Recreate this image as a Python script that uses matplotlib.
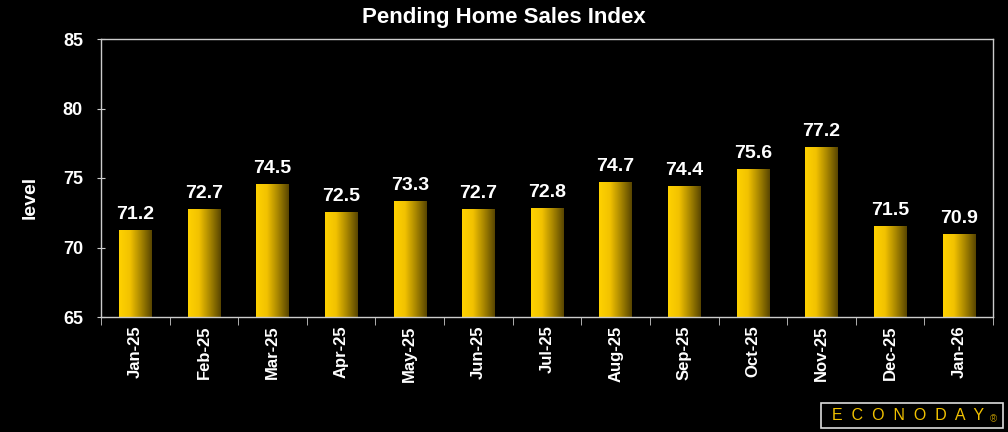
import numpy as np
import matplotlib.pyplot as plt
from matplotlib.colors import LinearSegmentedColormap
from matplotlib.patches import Rectangle

months = ['Jan-25', 'Feb-25', 'Mar-25', 'Apr-25', 'May-25', 'Jun-25', 'Jul-25',
          'Aug-25', 'Sep-25', 'Oct-25', 'Nov-25', 'Dec-25', 'Jan-26']
values = [71.2, 72.7, 74.5, 72.5, 73.3, 72.7, 72.8, 74.7, 74.4, 75.6, 77.2, 71.5, 70.9]
yticks = [65, 70, 75, 80, 85]

plt.rcParams['font.family'] = ['Liberation Sans', 'DejaVu Sans']
fig = plt.figure(figsize=(10.08, 4.32), dpi=100, facecolor='black')
ax = fig.add_axes([101/1008, 1-317/432, (993-101)/1008, (317-39)/432])
ax.set_facecolor('black')

x = np.arange(len(months))
bars = ax.bar(x, values, width=0.47, color='none', edgecolor='none')
cmap = LinearSegmentedColormap.from_list('gold', ['#ffd200', '#f2c200', '#a88600', '#584500'])
grad = np.linspace(0, 1, 256).reshape(1, -1)
for b in bars:
    x0, w, h = b.get_x(), b.get_width(), b.get_height()
    ax.imshow(grad, cmap=cmap, aspect='auto', extent=(x0, x0 + w, 65, h), zorder=2)
for xi, v in zip(x, values):
    ax.text(xi, v + 0.55, f'{v:.1f}', ha='center', va='bottom', color='white',
            fontsize=14, fontweight='bold')

ax.set_xlim(-0.5, len(months) - 0.5)
ax.set_ylim(65, 85)
ax.set_yticks(yticks)
ax.set_xticks(np.arange(len(months) + 1) - 0.5, minor=True)
ax.set_xticks(x)
ax.set_xticklabels(months, rotation=90, color='white', fontsize=12, fontweight='bold')
ax.set_yticklabels([str(t) for t in yticks], color='white', fontsize=13, fontweight='bold')
ax.tick_params(axis='x', which='major', length=0, pad=6)
ax.tick_params(axis='x', which='minor', length=6, color='#cccccc', direction='out')
ax.tick_params(axis='y', length=6, color='#cccccc', direction='inout', pad=10)
for s in ax.spines.values():
    s.set_color('#cccccc')
    s.set_linewidth(1)
ax.set_ylabel('level', color='white', fontsize=14, fontweight='bold')
ax.yaxis.set_label_coords(-62/892, 1-(197-39)/278)
fig.text(0.5, 1-18/432, 'Pending Home Sales Index', ha='center', va='center',
         color='white', fontsize=16, fontweight='bold')

# logo
fig.patches.append(Rectangle((821/1008, 1-428/432), 182/1008, 25/432,
                             transform=fig.transFigure, facecolor='black',
                             edgecolor='#dddddd', linewidth=1.2))
fig.text(908/1008, 1-415/432, 'E  C  O  N  O  D  A  Y', ha='center', va='center',
         color='#f2c200', fontsize=11.5)
fig.text(993/1008, 1-419/432, '\u00ae', ha='center', va='center',
         color='#b08c00', fontsize=7)

fig.savefig('out.png', dpi=100, facecolor='black')
